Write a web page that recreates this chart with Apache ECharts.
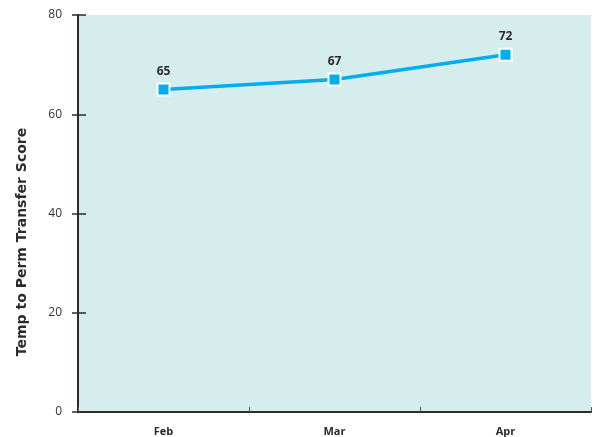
<!DOCTYPE html>
<html>
<head>
<meta charset="utf-8">
<script src="https://cdn.jsdelivr.net/npm/echarts@6/dist/echarts.min.js"></script>
<style>
  html, body { margin: 0; padding: 0; background: #fff; }
  #chart { width: 606px; height: 437px; }
</style>
</head>
<body>
<div id="chart"></div>
<script>
// data
const months = ["Feb", "Mar", "Apr"];
const scores = [65, 67, 72];
const yTicks = [0, 20, 40, 60, 80];
const yTitle = "Temp to Perm Transfer Score";

const myChart = echarts.init(document.getElementById("chart"));
const font = "Open Sans";

const yBase = {
  type: "value",
  min: yTicks[0],
  max: yTicks[yTicks.length - 1],
  interval: 20,
  splitLine: { show: false },
  axisLine: { show: true, lineStyle: { color: "#2b2b2b", width: 2 } },
};

const option = {
  backgroundColor: "#fff",
  textStyle: { fontFamily: font },
  grid: {
    left: 78,
    right: 15,
    top: 15,
    bottom: 22,
    show: true,
    backgroundColor: "#d6edee",
    borderWidth: 0,
  },
  // axis title sits a bit below the middle of the plot in the reference
  graphic: [
    {
      type: "text",
      x: 22,
      y: 242,
      rotation: Math.PI / 2,
      style: {
        text: yTitle,
        fill: "#2b2b2b",
        font: "bold 14px 'DejaVu Sans'",
        align: "center",
        verticalAlign: "middle",
      },
    },
  ],
  xAxis: {
    type: "category",
    data: months,
    boundaryGap: true,
    axisLine: { show: true, lineStyle: { color: "#2b2b2b", width: 2 } },
    axisTick: {
      show: true,
      inside: true,
      length: 5,
      lineStyle: { color: "#555", width: 1 },
    },
    axisLabel: {
      color: "#2b2b2b",
      fontWeight: "bold",
      fontSize: 11,
      margin: 14,
      fontFamily: font,
    },
  },
  yAxis: [
    Object.assign({}, yBase, {
      axisTick: { show: true, length: 6, lineStyle: { color: "#2b2b2b", width: 1.5 } },
      axisLabel: { color: "#333", fontSize: 12, margin: 16, fontFamily: font },
    }),
    // same axis again, only to draw the inner half of the ticks
    Object.assign({}, yBase, {
      position: "left",
      axisTick: { show: true, inside: true, length: 8, lineStyle: { color: "#2b2b2b", width: 1.5 } },
      axisLabel: { show: false },
    }),
  ],
  series: [
    {
      type: "line",
      data: scores,
      symbol: "rect",
      symbolSize: 12,
      lineStyle: { color: "#00aeef", width: 3.5 },
      itemStyle: { color: "#00aeef", borderColor: "#fff", borderWidth: 2 },
      label: {
        show: true,
        position: "top",
        distance: 5,
        color: "#2b2b2b",
        fontWeight: "bold",
        fontSize: 12,
        fontFamily: font,
      },
      z: 5,
    },
  ],
};

option && myChart.setOption(option);
</script>
</body>
</html>
